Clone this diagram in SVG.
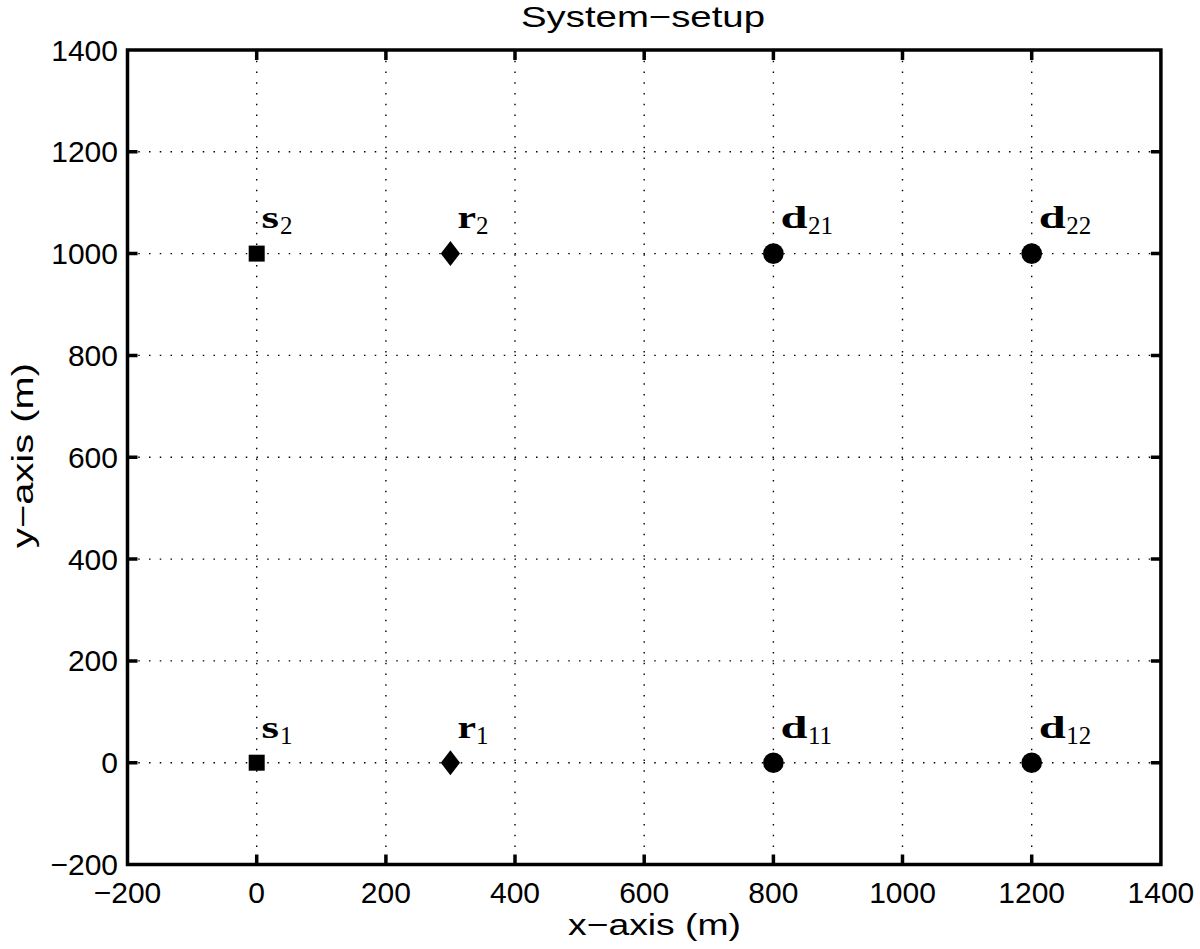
<svg xmlns="http://www.w3.org/2000/svg" width="1200" height="949" viewBox="0 0 1200 949">
<style>
.grid{stroke:#000;stroke-width:1.4;stroke-dasharray:1.5 9.25;fill:none}
.axis{stroke:#000;stroke-width:3.5;fill:none;stroke-linecap:square}
.tick{stroke:#000;stroke-width:3.5;fill:none}
.tl{font-family:"Liberation Sans",Arial,sans-serif;font-size:30px;fill:#000}
.lab{font-family:"Liberation Sans",Arial,sans-serif;font-size:30px;fill:#000}
.m{font-family:"Liberation Serif","Times New Roman",serif;font-size:31px;font-weight:bold;fill:#000}
.sub{font-family:"Liberation Serif","Times New Roman",serif;font-size:25px;font-weight:normal;fill:#000}
.mk{fill:#000}
</style>
<rect width="1200" height="949" fill="#fff"/>
<g id="grid">
<path class="grid" d="M256.7 50V864.5M385.9 50V864.5M515 50V864.5M644.2 50V864.5M773.4 50V864.5M902.5 50V864.5M1031.7 50V864.5"/>
<path class="grid" d="M127.5 762.7H1160.9M127.5 660.9H1160.9M127.5 559.1H1160.9M127.5 457.3H1160.9M127.5 355.4H1160.9M127.5 253.6H1160.9M127.5 151.8H1160.9"/>
</g>
<g id="axes">
<rect class="axis" x="127.5" y="50" width="1033.4" height="814.5"/>
<path class="tick" d="M256.7 864.5v-10M385.9 864.5v-10M515 864.5v-10M644.2 864.5v-10M773.4 864.5v-10M902.5 864.5v-10M1031.7 864.5v-10M256.7 50v10M385.9 50v10M515 50v10M644.2 50v10M773.4 50v10M902.5 50v10M1031.7 50v10"/>
<path class="tick" d="M127.5 762.7h10M127.5 660.9h10M127.5 559.1h10M127.5 457.3h10M127.5 355.4h10M127.5 253.6h10M127.5 151.8h10M1160.9 762.7h-10M1160.9 660.9h-10M1160.9 559.1h-10M1160.9 457.3h-10M1160.9 355.4h-10M1160.9 253.6h-10M1160.9 151.8h-10"/>
</g>
<g id="xticklabels" class="tl" text-anchor="middle">
<text x="127.5" y="902.5">−200</text>
<text x="256.7" y="902.5">0</text>
<text x="385.9" y="902.5">200</text>
<text x="515" y="902.5">400</text>
<text x="644.2" y="902.5">600</text>
<text x="773.4" y="902.5">800</text>
<text x="902.5" y="902.5">1000</text>
<text x="1031.7" y="902.5">1200</text>
<text x="1160.9" y="902.5">1400</text>
</g>
<g id="yticklabels" class="tl" text-anchor="end">
<text x="118" y="875">−200</text>
<text x="118" y="773.2">0</text>
<text x="118" y="671.4">200</text>
<text x="118" y="569.6">400</text>
<text x="118" y="467.8">600</text>
<text x="118" y="365.9">800</text>
<text x="118" y="264.1">1000</text>
<text x="118" y="162.3">1200</text>
<text x="118" y="60.5">1400</text>
</g>
<text id="title" class="lab" x="521" y="27" textLength="244" lengthAdjust="spacingAndGlyphs">System−setup</text>
<text id="xlabel" class="lab" x="568" y="935" textLength="173" lengthAdjust="spacingAndGlyphs">x−axis (m)</text>
<text id="ylabel" class="lab" x="0" y="0" textLength="185" lengthAdjust="spacingAndGlyphs" transform="translate(33 548) rotate(-90)">y−axis (m)</text>
<g id="node-s1"><rect class="mk" x="248.7" y="754.7" width="16" height="16"/><text class="m" x="261.5" y="738" textLength="17.5" lengthAdjust="spacingAndGlyphs">s</text><text class="sub" x="280" y="744">1</text></g>
<g id="node-s2"><rect class="mk" x="248.7" y="245.6" width="16" height="16"/><text class="m" x="261.5" y="228" textLength="17.5" lengthAdjust="spacingAndGlyphs">s</text><text class="sub" x="280" y="234">2</text></g>
<g id="node-r1"><path class="mk" d="M450.4 750.2L460 762.7L450.4 775.2L440.8 762.7Z"/><text class="m" x="457.5" y="738" textLength="18.5" lengthAdjust="spacingAndGlyphs">r</text><text class="sub" x="476" y="744">1</text></g>
<g id="node-r2"><path class="mk" d="M450.4 241.1L460 253.6L450.4 266.1L440.8 253.6Z"/><text class="m" x="457.5" y="228" textLength="18.5" lengthAdjust="spacingAndGlyphs">r</text><text class="sub" x="476" y="234">2</text></g>
<g id="node-d11"><circle class="mk" cx="773.4" cy="762.7" r="10.3"/><text class="m" x="780.5" y="738" textLength="27" lengthAdjust="spacingAndGlyphs">d</text><text class="sub" x="808" y="744">11</text></g>
<g id="node-d12"><circle class="mk" cx="1031.7" cy="762.7" r="10.3"/><text class="m" x="1038.8" y="738" textLength="27" lengthAdjust="spacingAndGlyphs">d</text><text class="sub" x="1066.3" y="744">12</text></g>
<g id="node-d21"><circle class="mk" cx="773.4" cy="253.6" r="10.3"/><text class="m" x="780.5" y="228" textLength="27" lengthAdjust="spacingAndGlyphs">d</text><text class="sub" x="808" y="234">21</text></g>
<g id="node-d22"><circle class="mk" cx="1031.7" cy="253.6" r="10.3"/><text class="m" x="1038.8" y="228" textLength="27" lengthAdjust="spacingAndGlyphs">d</text><text class="sub" x="1066.3" y="234">22</text></g>
</svg>
